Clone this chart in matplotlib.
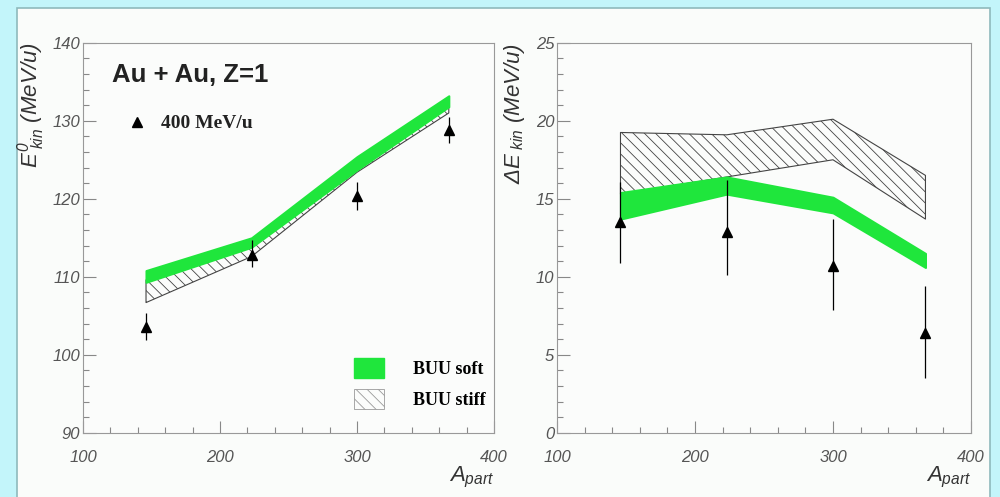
import numpy as np
import matplotlib
matplotlib.use("Agg")
import matplotlib.pyplot as plt
from matplotlib.patches import Patch, Rectangle
from matplotlib.ticker import MultipleLocator

plt.rcParams['font.family'] = ['Liberation Sans', 'DejaVu Sans']
plt.rcParams['mathtext.fontset'] = 'custom'
plt.rcParams['mathtext.it'] = 'Liberation Sans:italic'
plt.rcParams['mathtext.rm'] = 'Liberation Sans:italic'
plt.rcParams['hatch.linewidth'] = 0.6

# participant numbers
a_part = [146, 223, 300, 367]

# left: mean kinetic energy
e_data = [103.6, 112.8, 120.3, 128.8]
e_err_lo = [1.7, 1.6, 1.7, 1.6]
e_err_hi = [1.8, 1.9, 1.9, 1.7]
e_soft_lo = [109.3, 113.8, 123.7, 131.8]
e_soft_hi = [110.8, 115.0, 125.4, 133.2]
e_stiff_lo = [106.7, 112.6, 123.4, 131.0]
e_stiff_hi = [109.6, 114.2, 124.8, 132.0]

# right: width of kinetic energy distribution
d_data = [13.5, 12.9, 10.7, 6.4]
d_err_lo = [2.6, 2.8, 2.8, 2.9]
d_err_hi = [2.6, 3.3, 3.0, 3.0]
d_soft_lo = [13.7, 15.3, 14.1, 10.6]
d_soft_hi = [15.4, 16.4, 15.1, 11.5]
d_stiff_lo = [15.3, 16.4, 17.5, 13.7]
d_stiff_hi = [19.25, 19.1, 20.1, 16.5]

green = '#1fe63c'
gray = '#555555'

fig = plt.figure(figsize=(10, 4.97), dpi=100, facecolor='#c3f5fa')
fig.patches.append(Rectangle((0.017, -0.01), 0.973, 0.994, transform=fig.transFigure,
                             facecolor='#fafcfa', edgecolor='#8fb9bc', lw=1.2,
                             zorder=-5))

ax1 = fig.add_axes([0.083, 0.129, 0.411, 0.785])
ax2 = fig.add_axes([0.557, 0.129, 0.414, 0.785])


def style(ax, ylo, yhi, ymaj, ymin):
    ax.set_facecolor('#fbfcfb')
    ax.set_xlim(100, 400)
    ax.set_ylim(ylo, yhi)
    ax.xaxis.set_major_locator(MultipleLocator(100))
    ax.xaxis.set_minor_locator(MultipleLocator(20))
    ax.yaxis.set_major_locator(MultipleLocator(ymaj))
    ax.yaxis.set_minor_locator(MultipleLocator(ymin))
    ax.tick_params(which='both', direction='in', color='#888888', width=0.8)
    ax.tick_params(which='major', length=9)
    ax.tick_params(which='minor', length=4.5)
    ax.tick_params(axis='x', pad=12)
    ax.tick_params(axis='y', pad=2)
    for lab in ax.get_xticklabels() + ax.get_yticklabels():
        lab.set_fontstyle('italic')
        lab.set_color(gray)
        lab.set_fontsize(12)
    for sp in ax.spines.values():
        sp.set_color('#999999')
        sp.set_linewidth(0.8)


def draw(ax, soft_lo, soft_hi, stiff_lo, stiff_hi, y, elo, ehi):
    ax.fill_between(a_part, stiff_lo, stiff_hi, facecolor='none', edgecolor='#444444',
                    hatch='\\\\\\', lw=0.8, zorder=2)
    ax.fill_between(a_part, soft_lo, soft_hi, facecolor=green, edgecolor=green,
                    lw=1.5, zorder=3)
    ax.errorbar(a_part, y, yerr=[elo, ehi], fmt='^', color='black', ms=7.5,
                elinewidth=0.9, capsize=0, zorder=4)


style(ax1, 90, 140, 10, 2)
style(ax2, 0, 25, 5, 1)
draw(ax1, e_soft_lo, e_soft_hi, e_stiff_lo, e_stiff_hi, e_data, e_err_lo, e_err_hi)
draw(ax2, d_soft_lo, d_soft_hi, d_stiff_lo, d_stiff_hi, d_data, d_err_lo, d_err_hi)

ax1.set_ylabel(r'$E^{0}_{\ kin}$ (MeV/u)', loc='top', fontsize=16, style='italic',
               color='#333333', labelpad=4)
ax2.set_ylabel(r'$\Delta E_{\ kin}$ (MeV/u)', loc='top', fontsize=16, style='italic',
               color='#333333', labelpad=6)
for ax in (ax1, ax2):
    ax.set_xlabel(r'$A_{part}$', loc='right', fontsize=16, color='#333333', labelpad=0)

ax1.text(121, 135.9, 'Au + Au, Z=1', fontsize=18.5, fontweight='bold', va='center',
         color='#222222')
ax1.plot([139.5], [129.8], marker='^', color='black', ms=7)
ax1.text(157, 129.7, '400 MeV/u', fontsize=14, fontweight='bold', va='center',
         family='Liberation Serif', color='#222222')

handles = [Patch(facecolor=green, edgecolor=green),
           Patch(facecolor='none', edgecolor='#999999', hatch='\\\\\\', lw=0.6)]
ax1.legend(handles, ['BUU soft', 'BUU stiff'], loc='lower right',
           bbox_to_anchor=(1.02, 0.02), frameon=False,
           prop={'family': 'Liberation Serif', 'weight': 'bold', 'size': 13},
           handlelength=1.7, handleheight=1.3, handletextpad=1.6, labelspacing=0.6)

fig.savefig('out.png', dpi=100, facecolor=fig.get_facecolor())
